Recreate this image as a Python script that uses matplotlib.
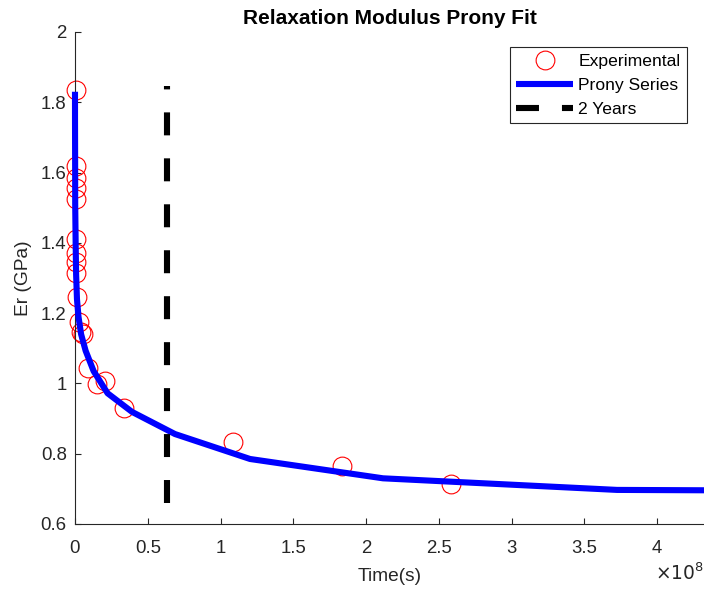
import matplotlib.pyplot as plt
from matplotlib.ticker import FuncFormatter

plt.rcParams['font.family'] = ['Liberation Sans', 'DejaVu Sans']

# measured relaxation modulus (time in s, modulus in GPa)
time_exp = [0.008e8, 0.010e8, 0.010e8, 0.010e8, 0.010e8, 0.010e8, 0.010e8, 0.010e8, 0.010e8,
            0.012e8, 0.030e8, 0.039e8, 0.053e8, 0.089e8, 0.151e8, 0.206e8, 0.337e8,
            1.084e8, 1.837e8, 2.584e8]
er_exp = [1.835, 1.62, 1.585, 1.555, 1.525, 1.41, 1.37, 1.345, 1.315,
          1.245, 1.176, 1.145, 1.14, 1.043, 0.997, 1.006, 0.929,
          0.832, 0.764, 0.713]

# Prony series evaluated on a log-spaced time grid
time_fit = [0.0, 1e4, 1e5, 0.0014e8, 0.0044e8, 0.0077e8, 0.0135e8, 0.024e8, 0.042e8,
            0.073e8, 0.128e8, 0.224e8, 0.392e8, 0.687e8, 1.203e8, 2.117e8, 3.725e8, 6.55e8]
er_fit = [1.83, 1.75, 1.62, 1.51, 1.40, 1.31, 1.24, 1.19, 1.14,
          1.093, 1.035, 0.972, 0.919, 0.856, 0.785, 0.730, 0.697, 0.692]

two_years = 2 * 365 * 24 * 3600
marker_span = [0.659, 1.845]

fig = plt.figure(figsize=(7.04, 5.92), dpi=100)
ax = fig.add_axes([75 / 704, 68 / 592, 629 / 704, 492 / 592])

ax.plot(time_exp, er_exp, 'o', mfc='none', mec=(1, 0, 0), mew=0.8, ms=13.5,
        label='Experimental', zorder=2, clip_on=False)
ax.plot(time_fit, er_fit, color=(0, 0, 1), lw=4.4, solid_capstyle='butt',
        label='Prony Series', zorder=3, clip_on=False)
ax.plot([two_years, two_years], marker_span, color='black', lw=4.4,
        dashes=(3.76, 3.76), dash_capstyle='butt', label='2 Years', zorder=4)

ax.set_xlim(0, 4.323e8)
ax.set_ylim(0.6, 2.0)
ax.set_xticks([i * 0.5e8 for i in range(9)])
ax.set_yticks([0.6, 0.8, 1.0, 1.2, 1.4, 1.6, 1.8, 2.0])
ax.xaxis.set_major_formatter(FuncFormatter(lambda v, p: '%g' % (v / 1e8)))
ax.yaxis.set_major_formatter(FuncFormatter(lambda v, p: '%g' % v))

for side in ['top', 'right']:
    ax.spines[side].set_visible(False)
for side in ['left', 'bottom']:
    ax.spines[side].set_color('#262626')
    ax.spines[side].set_linewidth(0.8)
ax.tick_params(direction='in', length=4, width=0.8, colors='#262626',
               labelsize=13.4, pad=6)
ax.tick_params(axis='x', pad=11.5)

ax.text(1.0, -0.079, r'$\times10^{8}$', transform=ax.transAxes, ha='right', va='top',
        fontsize=13.4, color='#262626')

ax.set_title('Relaxation Modulus Prony Fit', fontsize=15, fontweight='bold', pad=6)
ax.set_xlabel('Time(s)', fontsize=13.8, color='#262626', labelpad=8)
ax.set_ylabel('Er (GPa)', fontsize=13.8, color='#262626', labelpad=6)

leg = ax.legend(loc='upper right', bbox_to_anchor=(0.973, 0.97), fontsize=12.6,
                fancybox=False, framealpha=1, edgecolor='#262626', handlelength=3.25,
                handletextpad=0.29, borderpad=0.38, labelspacing=0.5, borderaxespad=0)
leg.get_frame().set_linewidth(0.8)

fig.savefig('out.png', dpi=100)
